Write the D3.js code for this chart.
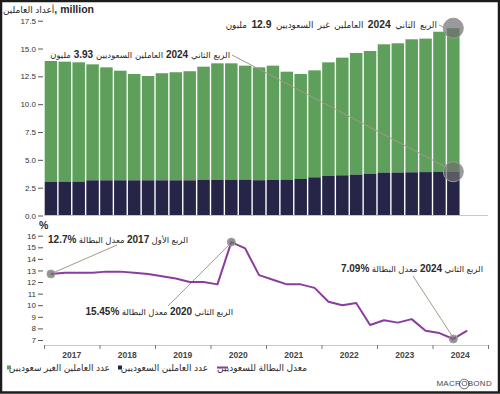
<!DOCTYPE html>
<html>
<head>
<meta charset="utf-8">
<script src="https://cdn.jsdelivr.net/npm/d3@7"></script>
<style>
  html, body { margin: 0; padding: 0; background: #fff; }
  svg { display: block; font-family: "Liberation Sans", "DejaVu Sans", sans-serif; }
</style>
</head>
<body>
<div id="chart"></div>
<script>
// Data
const years = ["2017", "2018", "2019", "2020", "2021", "2022", "2023", "2024"];
const quarters = years.flatMap(y => ["Q1", "Q2", "Q3", "Q4"].map(q => `${y} ${q}`));

// employed, million (Q1 2017 .. Q2 2024)
const saudiEmployed = [3.04, 3.04, 3.04, 3.16, 3.16, 3.16, 3.16, 3.16, 3.16, 3.16,
  3.16, 3.19, 3.19, 3.19, 3.22, 3.17, 3.19, 3.22, 3.28, 3.43,
  3.55, 3.61, 3.67, 3.73, 3.85, 3.86, 3.88, 3.90, 3.92, 3.93];
const nonSaudiEmployed = [10.84, 10.78, 10.72, 10.42, 10.15, 9.85, 9.55, 9.37, 9.62, 9.71,
  9.80, 10.18, 10.48, 10.48, 10.24, 10.14, 10.27, 9.70, 9.43, 9.61,
  10.21, 10.57, 10.93, 11.05, 11.53, 11.61, 11.95, 11.99, 12.59, 12.90];

// Saudi unemployment rate, % (Q1 2017 .. Q3 2024)
const saudiUnemployment = [12.7, 12.8, 12.8, 12.8, 12.9, 12.9, 12.8, 12.7, 12.5, 12.3,
  12.0, 12.0, 11.8, 15.45, 14.9, 12.6, 12.2, 11.8, 11.8, 11.5,
  10.3, 10.0, 10.2, 8.3, 8.7, 8.5, 8.8, 7.8, 7.6, 7.09, 7.8];

const topTicks = [0, 2.5, 5, 7.5, 10, 12.5, 15, 17.5];
const bottomTicks = [7, 8, 9, 10, 11, 12, 13, 14, 15, 16];

const W = 500, H = 394;
const green = "#5e9f5b", navy = "#262447", purple = "#8b3d9f";
const leader = "#a39a88", axisCol = "#cfc6b6", textCol = "#2a2a2a";
const LRI = "\u2066", PDI = "\u2069";

const svg = d3.select("#chart").append("svg")
  .attr("width", W).attr("height", H);

svg.append("rect")
  .attr("x", 1).attr("y", 1).attr("width", W - 2).attr("height", H - 2.5)
  .attr("fill", "#fff").attr("stroke", "#1c1c1c").attr("stroke-width", 2.5);

// Scales
const x = d3.scaleBand().domain(quarters).range([44, 488])
  .paddingInner(0.1).paddingOuter(0.05);
const xYear = d3.scaleLinear().domain([2017, 2025]).range([44, 488]);
const yTop = d3.scaleLinear().domain([0, 17.5]).range([215.5, 20.7]);
const yBot = d3.scaleLinear().domain([7, 16]).range([340, 235.7]);

// helper for right-to-left labels with bold numbers
function rtlText(g, xRight, y, parts, size, wordSpacing) {
  const t = g.append("text")
    .attr("x", xRight).attr("y", y)
    .attr("direction", "rtl")
    .attr("text-anchor", "start")
    .attr("fill", textCol)
    .style("font-size", size + "px")
    .style("word-spacing", (wordSpacing || 0) + "px");
  parts.forEach(([s, bold]) => {
    t.append("tspan")
      .style("font-weight", bold ? "bold" : "normal")
      .style("font-size", bold ? (size + 1.5) + "px" : size + "px")
      .text(bold ? LRI + s + PDI : s);
  });
  return t;
}

// Title
const title = svg.append("text")
  .attr("x", 3).attr("y", 13)
  .attr("fill", textCol);
title.append("tspan").style("font-size", "9px").text("أعداد العاملين");
title.append("tspan").style("font-size", "10.5px").style("font-weight", "bold").text(", million");

// ---- Top chart: stacked bars ----
const stacked = quarters.slice(0, saudiEmployed.length).map((q, i) => ({
  q, saudi: saudiEmployed[i], non: nonSaudiEmployed[i]
}));

svg.append("g").selectAll("rect")
  .data(stacked)
  .join("rect")
  .attr("x", d => x(d.q))
  .attr("width", x.bandwidth())
  .attr("y", d => yTop(d.saudi + d.non))
  .attr("height", d => yTop(d.saudi) - yTop(d.saudi + d.non))
  .attr("fill", green);

svg.append("g").selectAll("rect")
  .data(stacked)
  .join("rect")
  .attr("x", d => x(d.q))
  .attr("width", x.bandwidth())
  .attr("y", d => yTop(d.saudi))
  .attr("height", d => yTop(0) - yTop(d.saudi))
  .attr("fill", navy);

// axes for top chart
const gyTop = svg.append("g")
  .attr("transform", "translate(43,0)")
  .call(d3.axisLeft(yTop).tickValues(topTicks).tickFormat(d3.format(".1f")).tickSize(5).tickPadding(2));
gyTop.select(".domain").remove();
gyTop.selectAll("line").attr("stroke", "#555");
gyTop.selectAll("text").attr("fill", "#333").style("font-size", "8px").attr("font-family", null);

svg.append("line")
  .attr("x1", 44).attr("x2", 488)
  .attr("y1", yTop(0)).attr("y2", yTop(0))
  .attr("stroke", axisCol).attr("stroke-width", 1.2);

// highlights on last bar
const last = stacked[stacked.length - 1];
const lastX = x(last.q) + x.bandwidth() / 2;
const topY = yTop(last.saudi + last.non);
const saudiY = yTop(last.saudi);

svg.append("line")
  .attr("x1", 439).attr("y1", 25).attr("x2", lastX - 10).attr("y2", topY - 1)
  .attr("stroke", leader).attr("stroke-width", 1);
svg.append("line")
  .attr("x1", 232).attr("y1", 55).attr("x2", lastX - 8).attr("y2", saudiY - 5)
  .attr("stroke", leader).attr("stroke-width", 1);

[topY, saudiY].forEach(cy => {
  svg.append("circle")
    .attr("cx", lastX).attr("cy", cy).attr("r", 10)
    .attr("fill", "#6f6f6f").attr("fill-opacity", 0.7)
    .attr("stroke", "#9a9a9a").attr("stroke-width", 1);
});

rtlText(svg, 437, 28, [["الربع الثاني ", false], ["2024", true], [" العاملين غير السعوديين ", false], ["12.9", true], [" مليون", false]], 8.8, 2);
rtlText(svg, 230, 58, [["الربع الثاني ", false], ["2024", true], [" العاملين السعوديين ", false], ["3.93", true], [" مليون", false]], 8.5, 0.5);

// ---- Bottom chart: unemployment line ----
svg.append("text")
  .attr("x", 39).attr("y", 229)
  .attr("fill", textCol)
  .style("font-size", "10.5px").style("font-weight", "bold")
  .text("%");

const gyBot = svg.append("g")
  .attr("transform", "translate(43,0)")
  .call(d3.axisLeft(yBot).tickValues(bottomTicks).tickFormat(d3.format("d")).tickSize(5).tickPadding(2));
gyBot.select(".domain").remove();
gyBot.selectAll("line").attr("stroke", "#555");
gyBot.selectAll("text").attr("fill", "#333").style("font-size", "8px").attr("font-family", null);

const gx = svg.append("g")
  .attr("transform", "translate(0,345)")
  .call(d3.axisBottom(xYear).tickValues(d3.range(2017, 2026)).tickFormat("").tickSize(4).tickSizeOuter(0));
gx.select(".domain").attr("stroke", axisCol).attr("stroke-width", 1.2);
gx.selectAll("line").attr("stroke", "#777");

svg.append("g").selectAll("text")
  .data(years)
  .join("text")
  .attr("x", d => xYear(+d + 0.5))
  .attr("y", 357.5)
  .attr("text-anchor", "middle")
  .attr("fill", "#444")
  .style("font-size", "8.5px").style("font-weight", "bold")
  .text(d => d);

const linePts = saudiUnemployment.map((v, i) => ({ q: quarters[i], v }));
const lineGen = d3.line()
  .x(d => x(d.q) + x.bandwidth() / 2)
  .y(d => yBot(d.v));

const px = i => x(quarters[i]) + x.bandwidth() / 2;
const py = i => yBot(saudiUnemployment[i]);

// leaders for the line annotations
svg.append("line").attr("x1", 117).attr("y1", 245).attr("x2", px(0) + 3).attr("y2", py(0) - 1.5)
  .attr("stroke", leader).attr("stroke-width", 1);
svg.append("line").attr("x1", 168).attr("y1", 306).attr("x2", px(13) - 2.5).attr("y2", py(13) + 3)
  .attr("stroke", leader).attr("stroke-width", 1);
svg.append("line").attr("x1", 413).attr("y1", 276).attr("x2", px(29) - 1.5).attr("y2", py(29) - 3.5)
  .attr("stroke", leader).attr("stroke-width", 1);

svg.append("path")
  .datum(linePts)
  .attr("d", lineGen)
  .attr("fill", "none")
  .attr("stroke", purple)
  .attr("stroke-width", 2)
  .attr("stroke-linejoin", "round");

[0, 13, 29].forEach(i => {
  svg.append("circle")
    .attr("cx", px(i)).attr("cy", py(i)).attr("r", 4)
    .attr("fill", "#6f6f6f").attr("fill-opacity", 0.75)
    .attr("stroke", "#a0a0a0").attr("stroke-width", 1);
});

rtlText(svg, 188, 243, [["الربع الأول ", false], ["2017", true], [" معدل البطالة ", false], ["12.7%", true]], 8.5, 0);
rtlText(svg, 233, 315, [["الربع الثاني ", false], ["2020", true], [" معدل البطالة ", false], ["15.45%", true]], 8.5, 0);
rtlText(svg, 483, 272, [["الربع الثاني ", false], ["2024", true], [" معدل البطالة ", false], ["7.09%", true]], 8.5, 0);

// ---- Legend ----
const legend = svg.append("g").style("font-size", "9px");
legend.append("rect").attr("x", 7).attr("y", 365.5).attr("width", 4).attr("height", 4).attr("fill", green);
legend.append("text").attr("x", 110).attr("y", 371).attr("direction", "rtl").attr("text-anchor", "start")
  .attr("fill", textCol).text("عدد العاملين الغير سعوديين");
legend.append("rect").attr("x", 118).attr("y", 365.5).attr("width", 4).attr("height", 4).attr("fill", navy);
legend.append("text").attr("x", 208).attr("y", 371).attr("direction", "rtl").attr("text-anchor", "start")
  .attr("fill", textCol).text("عدد العاملين السعوديين");
legend.append("line").attr("x1", 217).attr("x2", 228).attr("y1", 367.5).attr("y2", 367.5)
  .attr("stroke", purple).attr("stroke-width", 2);
legend.append("text").attr("x", 307).attr("y", 371).attr("direction", "rtl").attr("text-anchor", "start")
  .attr("fill", textCol).text("معدل البطالة للسعوديين");

// ---- Macrobond mark ----
const mb = svg.append("text")
  .attr("x", 492).attr("y", 386)
  .attr("text-anchor", "end")
  .attr("fill", "#4a4a4a")
  .style("font-size", "8px")
  .style("letter-spacing", "0.3px")
  .text("MACROBOND");
const box = mb.node().getExtentOfChar(4);
svg.append("circle")
  .attr("cx", box.x + box.width / 2 - 0.2).attr("cy", box.y + box.height / 2 + 0.5)
  .attr("r", 4.8).attr("fill", "none").attr("stroke", "#4a4a4a").attr("stroke-width", 0.8);
</script>
</body>
</html>
